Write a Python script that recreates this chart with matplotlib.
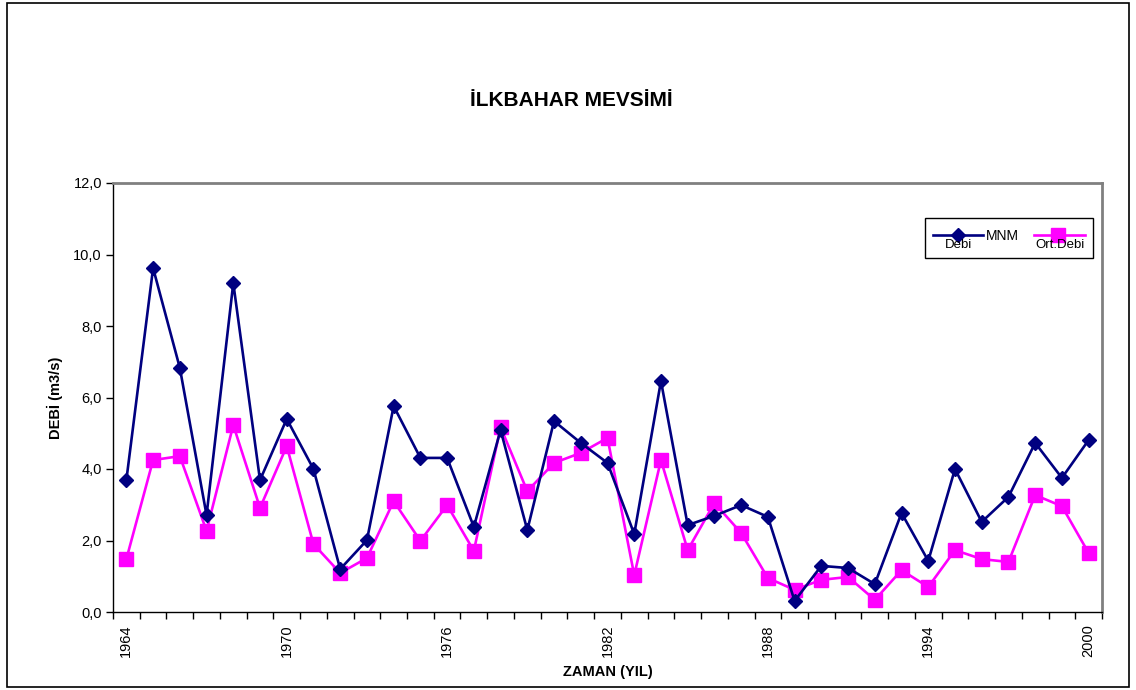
import matplotlib
matplotlib.use("Agg")
import matplotlib.pyplot as plt
from matplotlib.patches import Rectangle
from matplotlib.lines import Line2D

plt.rcParams['font.family'] = ['Liberation Sans', 'DejaVu Sans']

years = list(range(1964, 2001))
debi = [3.69, 9.62, 6.83, 2.71, 9.20, 3.69, 5.40, 4.00, 1.20, 2.01,
        5.76, 4.31, 4.31, 2.38, 5.09, 2.29, 5.34, 4.73, 4.17, 2.18,
        6.46, 2.43, 2.69, 2.99, 2.66, 0.31, 1.29, 1.23, 0.78, 2.77,
        1.43, 4.00, 2.52, 3.22, 4.73, 3.75, 4.81]
ort_debi = [1.48, 4.25, 4.36, 2.27, 5.23, 2.91, 4.64, 1.90, 1.09, 1.51,
            3.10, 1.99, 2.99, 1.71, 5.17, 3.38, 4.17, 4.45, 4.87, 1.03,
            4.25, 1.73, 3.05, 2.21, 0.95, 0.62, 0.90, 0.98, 0.34, 1.17,
            0.70, 1.73, 1.48, 1.40, 3.27, 2.96, 1.65]
label_years = [1964, 1970, 1976, 1982, 1988, 1994, 2000]
yticks = [0, 2, 4, 6, 8, 10, 12]

W, H = 1136, 690
fig = plt.figure(figsize=(W / 100, H / 100), dpi=100)
ax = fig.add_axes([113 / W, 1 - 612 / H, (1102 - 113) / W, (612 - 183) / H])

x = list(range(len(years)))
ax.plot(x, debi, color='#000080', lw=1.9, marker='D', markersize=7,
        markeredgewidth=1, markerfacecolor='#000080', markeredgecolor='#000080', zorder=3)
ax.plot(x, ort_debi, color='#FF00FF', lw=1.9, marker='s', markersize=10,
        markeredgewidth=1, markerfacecolor='#FF00FF', markeredgecolor='#FF00FF', zorder=2)

ax.set_xlim(-0.5, len(years) - 0.5)
ax.set_ylim(0, 12)
ax.set_yticks(yticks)
ax.set_yticklabels([f"{v:.1f}".replace('.', ',') for v in yticks], fontsize=10.5)

# category boundary ticks (major) and labels (minor, no tick marks)
ax.set_xticks([i - 0.5 for i in range(len(years) + 1)])
ax.set_xticklabels([])
ax.set_xticks([years.index(y) for y in label_years], minor=True)
ax.set_xticklabels([str(y) for y in label_years], minor=True, rotation=90, fontsize=10.5)
ax.tick_params(axis='x', which='major', direction='out', length=5, width=1, color='#000000')
ax.tick_params(axis='x', which='minor', length=0, pad=9)
ax.tick_params(axis='y', direction='out', length=5, width=1, color='#000000', pad=3)

for s in ['top', 'right']:
    ax.spines[s].set_color('#808080')
    ax.spines[s].set_linewidth(2)
for s in ['left', 'bottom']:
    ax.spines[s].set_color('#000000')
    ax.spines[s].set_linewidth(1)

fig.text(571 / W, 1 - 100 / H, 'İLKBAHAR MEVSİMİ', ha='center', va='center',
         fontsize=15, fontweight='bold')
fig.text(55 / W, 1 - 398 / H, 'DEBİ (m3/s)', ha='center', va='center',
         rotation=90, fontsize=10.5, fontweight='bold')
fig.text(608 / W, 1 - 672 / H, 'ZAMAN (YIL)', ha='center', va='center',
         fontsize=10.5, fontweight='bold')

# outer chart border
fig.patches.append(Rectangle((7 / W, 1 - 687 / H), (1129 - 7) / W, (687 - 3) / H,
                             transform=fig.transFigure, fill=False,
                             edgecolor='black', linewidth=1.2))

# legend (manual, as in reference)
fig.patches.append(Rectangle((925 / W, 1 - 258 / H), (1093 - 925) / W, (258 - 218) / H,
                             transform=fig.transFigure, fill=True, facecolor='white',
                             edgecolor='black', linewidth=1, zorder=5))
fig.lines.append(Line2D([933 / W, 983 / W], [1 - 235 / H, 1 - 235 / H],
                        transform=fig.transFigure, color='#000080', lw=1.9, zorder=6))
fig.lines.append(Line2D([958 / W], [1 - 235 / H], transform=fig.transFigure,
                        marker='D', markersize=7, color='#000080', zorder=7))
fig.lines.append(Line2D([1034 / W, 1085 / W], [1 - 235 / H, 1 - 235 / H],
                        transform=fig.transFigure, color='#FF00FF', lw=1.9, zorder=6))
fig.lines.append(Line2D([1058 / W], [1 - 235 / H], transform=fig.transFigure,
                        marker='s', markersize=10, color='#FF00FF', zorder=7))
fig.text(958 / W, 1 - 245 / H, 'Debi', ha='center', va='center', fontsize=9.5, zorder=8)
fig.text(1002 / W, 1 - 236 / H, 'MNM', ha='center', va='center', fontsize=10, zorder=8)
fig.text(1060 / W, 1 - 245 / H, 'Ort.Debi', ha='center', va='center', fontsize=9.5, zorder=8)

fig.savefig('out.png', dpi=100)
